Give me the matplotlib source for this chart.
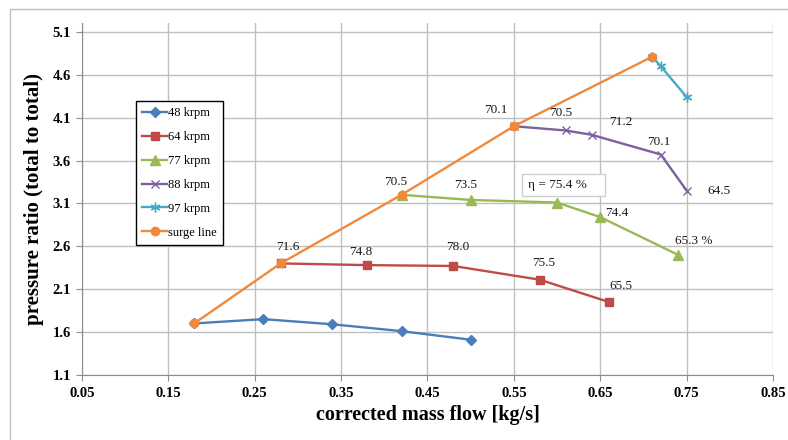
import matplotlib
matplotlib.use("Agg")
import matplotlib.pyplot as plt
from matplotlib.patches import Rectangle

plt.rcParams['font.family'] = ['Liberation Serif', 'DejaVu Serif']

# speed lines (first point of each sits on the surge line)
flow_48 = [0.18, 0.26, 0.34, 0.42, 0.50]
pr_48 = [1.70, 1.75, 1.69, 1.61, 1.51]

flow_64 = [0.28, 0.38, 0.48, 0.58, 0.66]
pr_64 = [2.40, 2.38, 2.37, 2.21, 1.95]

flow_77 = [0.42, 0.50, 0.60, 0.65, 0.74]
pr_77 = [3.20, 3.14, 3.11, 2.94, 2.50]

flow_88 = [0.55, 0.61, 0.64, 0.72, 0.75]
pr_88 = [4.00, 3.95, 3.90, 3.67, 3.25]

flow_97 = [0.71, 0.72, 0.75]
pr_97 = [4.81, 4.70, 4.34]

flow_surge = [0.18, 0.28, 0.42, 0.55, 0.71]
pr_surge = [1.70, 2.40, 3.20, 4.00, 4.81]

# efficiency labels: (text, x, y)
eta_labels = [
    ("71.6", 0.288, 2.59), ("74.8", 0.373, 2.53), ("78.0", 0.485, 2.59),
    ("75.5", 0.584, 2.41), ("65.5", 0.674, 2.14),
    ("70.5", 0.413, 3.35), ("73.5", 0.494, 3.32),
    ("74.4", 0.669, 2.99), ("65.3 %", 0.758, 2.66),
    ("70.1", 0.529, 4.19), ("70.5", 0.604, 4.155), ("71.2", 0.674, 4.05),
    ("70.1", 0.718, 3.82), ("64.5", 0.787, 3.25),
]

fig = plt.figure(figsize=(7.88, 4.40), dpi=100)
ax = fig.add_axes([0.104, 0.148, 0.877, 0.800])

# chart border (left and top visible)
fig.add_artist(Rectangle((0.013, -0.05), 1.05, 1.03, transform=fig.transFigure,
                         fill=False, ec='#bfbfbf', lw=1.0))

lw = 1.7
ax.plot(flow_48, pr_48, color='#4a7ebb', lw=lw, marker='D', ms=5, label='48 krpm')
ax.plot(flow_64, pr_64, color='#be4b48', lw=lw, marker='s', ms=6, label='64 krpm')
ax.plot(flow_77, pr_77, color='#98b954', lw=lw, marker='^', ms=6.5, label='77 krpm')
ax.plot(flow_88, pr_88, color='#7d60a0', lw=lw, marker='x', ms=6, mew=1.0, label='88 krpm')
ax.plot(flow_97, pr_97, color='#46aac5', lw=lw, marker=(6, 2, 0), ms=7, mew=1.0, label='97 krpm')
ax.plot(flow_surge, pr_surge, color='#f0893a', lw=lw, marker='o', ms=6, label='surge line')

for txt, x, y in eta_labels:
    ax.text(x, y, txt, fontsize=9.5, ha='center', va='center', color='#1a1a1a')

ax.text(0.566, 3.316, "η = 75.4 %    ", fontsize=9.5, ha='left', va='center',
        color='#1a1a1a',
        bbox=dict(boxstyle='square,pad=0.4', fc='white', ec='#d0d0d0', lw=1.0))

ax.set_xlim(0.05, 0.85)
ax.set_ylim(1.1, 5.205)
xt = [0.05, 0.15, 0.25, 0.35, 0.45, 0.55, 0.65, 0.75, 0.85]
yt = [1.1, 1.6, 2.1, 2.6, 3.1, 3.6, 4.1, 4.6, 5.1]
ax.set_xticks(xt)
ax.set_xticklabels(["%.2f" % v for v in xt], fontsize=10.5, fontweight='bold')
ax.set_yticks(yt)
ax.set_yticklabels(["%.1f" % v for v in yt], fontsize=10.5, fontweight='bold')
ax.grid(True, color='#bfbfbf', lw=1.0)
ax.set_axisbelow(True)
for s in ['top', 'right']:
    ax.spines[s].set_visible(False)
for s in ['left', 'bottom']:
    ax.spines[s].set_color('#8c8c8c')
ax.tick_params(colors='#8c8c8c', labelcolor='black', length=4)
ax.tick_params(axis='x', pad=5)
ax.tick_params(axis='y', pad=4)

ax.set_xlabel("corrected mass flow [kg/s]", fontsize=14.5, fontweight='bold', labelpad=3)
ax.set_ylabel("pressure ratio (total to total)", fontsize=15, fontweight='bold', labelpad=6)

leg = ax.legend(loc='upper left', bbox_to_anchor=(0.078, 0.778), fontsize=9,
                frameon=True, fancybox=False, edgecolor='black', framealpha=1,
                labelspacing=0.95, handlelength=2.0, handletextpad=0.1,
                borderpad=0.5, borderaxespad=0)
leg.get_frame().set_linewidth(1.0)

fig.savefig("out.png", dpi=100)
